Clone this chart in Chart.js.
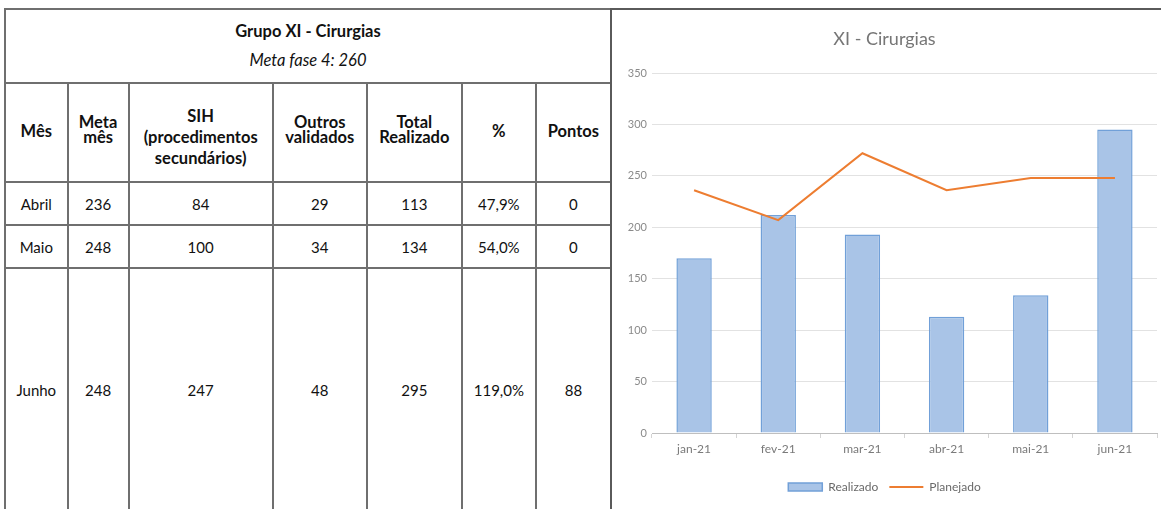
<!DOCTYPE html>
<html>
<head>
<meta charset="utf-8">
<script src="https://cdn.jsdelivr.net/npm/chart.js@4.4.1/dist/chart.umd.min.js"></script>
<style>
  html, body { margin: 0; padding: 0; background: #fff; }
  body { width: 1161px; height: 509px; overflow: hidden; position: relative; font-family: Lato, "Open Sans", sans-serif; }
  #tbl { position: absolute; left: 4px; top: 8px; border-collapse: collapse; table-layout: fixed; width: 608px; }
  #tbl td { border: 2px solid #6f6f6f; text-align: center; vertical-align: middle; padding: 0; color: #111; font-size: 15px; overflow: hidden; }
  #tbl td.h { font-weight: bold; font-size: 16.5px; }
  #box { position: absolute; left: 610px; top: 8px; width: 600px; height: 560px; border-left: 2px solid #5a5a5a; border-top: 2px solid #5a5a5a; }
  #chart { position: absolute; left: 612px; top: 10px; }
</style>
</head>
<body>
<table id="tbl"></table>
<div id="box"></div>
<canvas id="chart" width="549" height="499"></canvas>
<script>
// ---- chart data ----
const months = ['jan-21', 'fev-21', 'mar-21', 'abr-21', 'mai-21', 'jun-21'];
const realizado = [170, 212, 193, 113, 134, 295];
const planejado = [236, 207, 272, 236, 248, 248];
const yMin = 0;
const yMax = 350;
const yStep = 50;

// ---- table data ----
const tableTitle = 'Grupo XI - Cirurgias';
const tableSubtitle = 'Meta fase 4: 260';
const tableHeaders = ['Mês', 'Meta<br>mês', 'SIH<br>(procedimentos<br>secundários)', 'Outros<br>validados', 'Total<br>Realizado', '%', 'Pontos'];
const tableMonths = ['Abril', 'Maio', 'Junho'];
const metaMes = [236, 248, 248];
const sihValues = [84, 100, 247];
const outrosValues = [29, 34, 48];
const totalValues = [113, 134, 295];
const pctValues = ['47,9%', '54,0%', '119,0%'];
const pontosValues = [0, 0, 88];

// ---- build table ----
const colWidths = [62.5, 61, 144, 94, 95, 74, 75];
const rowHeights = [74, 99, 43, 43, 244];
const tbl = document.getElementById('tbl');
let html = '<colgroup>' + colWidths.map(w => '<col style="width:' + w + 'px">').join('') + '</colgroup>';
html += '<tr style="height:' + rowHeights[0] + 'px"><td colspan="7">' +
  '<div style="font-weight:bold;font-size:16.5px;line-height:29px;">' + tableTitle + '</div>' +
  '<div style="font-style:italic;font-size:16.5px;line-height:29px;">' + tableSubtitle + '</div></td></tr>';
html += '<tr style="height:' + rowHeights[1] + 'px">' + tableHeaders.map((h, i) => {
  if (i === 2) return '<td class="h" style="line-height:21px;padding-top:10px;">' + h + '</td>';
  if (h.indexOf('<br>') >= 0) return '<td class="h" style="line-height:15px;padding-bottom:5px;">' + h + '</td>';
  return '<td class="h" style="padding-bottom:3px;">' + h + '</td>';
}).join('') + '</tr>';
tableMonths.forEach((m, i) => {
  const cells = [m, metaMes[i], sihValues[i], outrosValues[i], totalValues[i], pctValues[i], pontosValues[i]];
  html += '<tr style="height:' + rowHeights[2 + i] + 'px">' + cells.map(c => '<td>' + c + '</td>').join('') + '</tr>';
});
tbl.innerHTML = html;

// ---- chart ----
const ctx = document.getElementById('chart').getContext('2d');
new Chart(ctx, {
  data: {
    labels: months,
    datasets: [
      {
        type: 'bar', label: 'Realizado', data: realizado,
        backgroundColor: '#a9c4e7', borderColor: '#71a0d8', borderWidth: 1.5,
        barPercentage: 0.42, categoryPercentage: 1, order: 1, pointStyle: 'rect'
      },
      {
        type: 'line', label: 'Planejado', data: planejado,
        borderColor: '#ed7d31', backgroundColor: '#ed7d31', borderWidth: 2,
        pointRadius: 0, tension: 0, order: 0, pointStyle: 'line', fill: false
      }
    ]
  },
  options: {
    responsive: false, animation: false, devicePixelRatio: 1,
    layout: { padding: { left: 0, right: 4, top: 0, bottom: 6 } },
    plugins: {
      title: {
        display: true, text: 'XI - Cirurgias', color: '#767676',
        font: { family: 'Lato', size: 18, weight: 'normal' },
        padding: { top: 18, bottom: 23.4 }
      },
      legend: {
        position: 'bottom',
        labels: {
          usePointStyle: true, pointStyleWidth: 34, boxHeight: 8,
          color: '#6a6a6a', font: { family: 'Lato', size: 12 }, padding: 11,
          sort: (a, b) => a.datasetIndex - b.datasetIndex
        }
      },
      tooltip: { enabled: false }
    },
    scales: {
      x: {
        grid: { offset: true, drawOnChartArea: false, drawTicks: true, tickLength: 5, color: '#d4d4d4' },
        border: { color: '#bfbfbf' },
        ticks: { color: '#7a7a7a', font: { family: 'Lato', size: 12 }, padding: 4 },
        afterFit(s) { s.height = 37; }
      },
      y: {
        min: yMin, max: yMax,
        ticks: { stepSize: yStep, color: '#8a8a8a', font: { family: 'Lato', size: 11 }, padding: 5 },
        grid: { color: '#e2e2e2', drawTicks: false },
        border: { display: false },
        afterFit(s) { s.width = 40; }
      }
    }
  }
});
</script>
</body>
</html>
